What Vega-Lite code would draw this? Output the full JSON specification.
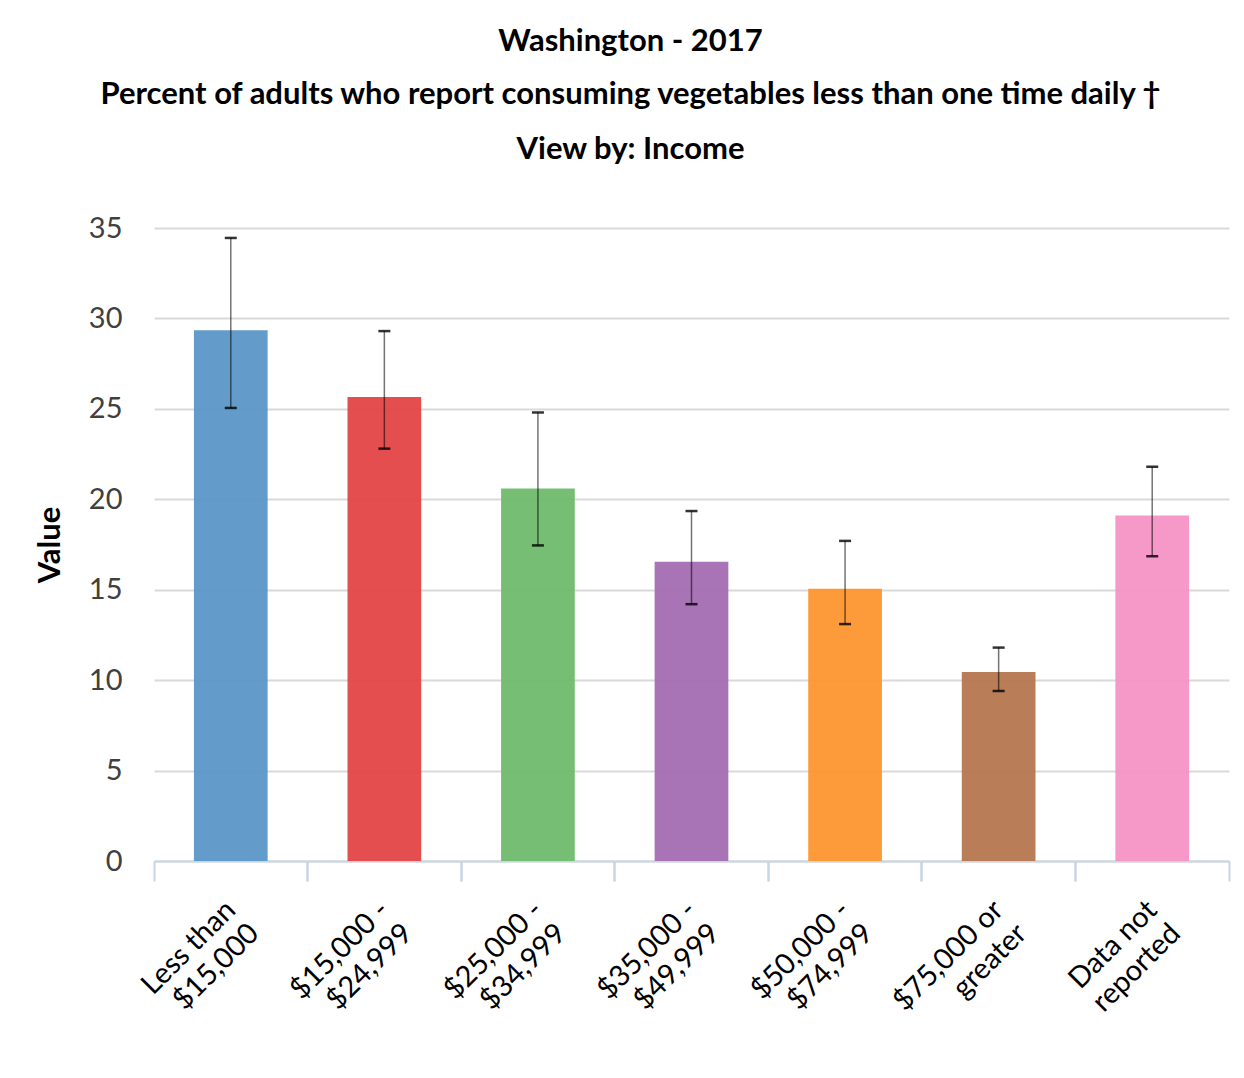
{
  "$schema": "https://vega.github.io/schema/vega-lite/v6.json",
  "autosize": {"type": "none"},
  "width": 1075,
  "height": 633,
  "padding": {"left": 154, "top": 228, "right": 15, "bottom": 217},
  "background": "white",
  "config": {"font": "Lato", "view": {"stroke": null}},
  "title": {
    "text": "Washington - 2017",
    "subtitle": ["Percent of adults who report consuming vegetables less than one time daily †", "View by: Income"],
    "anchor": "middle",
    "dx": -61,
    "font": "Lato",
    "fontSize": 31,
    "fontWeight": "bold",
    "color": "black",
    "subtitleFont": "Lato",
    "subtitleFontSize": 31,
    "subtitleFontWeight": "bold",
    "subtitleColor": "black",
    "subtitleLineHeight": 55,
    "subtitlePadding": 22,
    "offset": 48
  },
  "data": {
    "values": [
      {"income": "Less than|$15,000", "value": 29.35, "lo": 25.05, "hi": 34.45},
      {"income": "$15,000 -|$24,999", "value": 25.65, "lo": 22.8, "hi": 29.3},
      {"income": "$25,000 -|$34,999", "value": 20.6, "lo": 17.45, "hi": 24.8},
      {"income": "$35,000 -|$49,999", "value": 16.55, "lo": 14.2, "hi": 19.35},
      {"income": "$50,000 -|$74,999", "value": 15.05, "lo": 13.1, "hi": 17.7},
      {"income": "$75,000 or|greater", "value": 10.45, "lo": 9.4, "hi": 11.8},
      {"income": "Data not|reported", "value": 19.1, "lo": 16.85, "hi": 21.8}
    ]
  },
  "resolve": {"scale": {"x": "independent"}, "axis": {"x": "independent"}},
  "layer": [
    {
      "mark": {"type": "bar", "width": {"band": 0.48}, "opacity": 0.95},
      "encoding": {
        "x": {
          "field": "income", "type": "nominal", "sort": null,
          "scale": {"paddingInner": 0, "paddingOuter": 0},
          "axis": {
            "title": null, "orient": "bottom",
            "bandPosition": 0,
            "domainColor": "#c8d5e4", "domainWidth": 2,
            "tickColor": "#c8d5e4", "tickWidth": 2, "tickSize": 20,
            "labelAngle": -45, "labelAlign": "right", "labelBaseline": "middle",
            "labelExpr": "split(datum.label, '|')",
            "labelFont": "Lato", "labelFontSize": 29, "labelColor": "black",
            "labelLineHeight": 33, "labelPadding": 24, "labelOverlap": false, "labelBound": false
          }
        },
        "y": {
          "field": "value", "type": "quantitative",
          "scale": {"domain": [0, 35], "nice": false},
          "axis": {
            "title": "Value", "titleFont": "Lato", "titleFontSize": 31, "titleFontWeight": "bold",
            "titleColor": "black", "titlePadding": 22,
            "values": [0, 5, 10, 15, 20, 25, 30, 35],
            "domain": false, "ticks": false,
            "gridColor": "#d9d9d9", "gridWidth": 2,
            "labelFont": "Lato", "labelFontSize": 29, "labelColor": "#404040", "labelPadding": 32
          }
        },
        "color": {
          "field": "income", "type": "nominal", "sort": null, "legend": null,
          "scale": {"range": ["#5b97c7", "#e44546", "#6fbb6b", "#a46db1", "#fd962f", "#b5764f", "#f592c5"]}
        }
      }
    },
    {
      "mark": {"type": "rule", "color": "black", "strokeWidth": 1.5, "opacity": 0.55},
      "encoding": {
        "x": {
          "field": "income", "type": "nominal", "sort": null,
          "scale": {"paddingInner": 0, "paddingOuter": 0},
          "axis": {
            "title": null, "orient": "bottom", "bandPosition": 1, "labels": false, "domain": false, "grid": false,
            "tickColor": "#c8d5e4", "tickWidth": 2, "tickSize": 20
          }
        },
        "y": {"field": "lo", "type": "quantitative"},
        "y2": {"field": "hi"}
      }
    },
    {
      "mark": {"type": "tick", "color": "black", "size": 12, "thickness": 2.5, "opacity": 0.8},
      "encoding": {
        "x": {"field": "income", "type": "nominal", "sort": null, "scale": {"paddingInner": 0, "paddingOuter": 0}, "axis": null},
        "y": {"field": "lo", "type": "quantitative"}
      }
    },
    {
      "mark": {"type": "tick", "color": "black", "size": 12, "thickness": 2.5, "opacity": 0.8},
      "encoding": {
        "x": {"field": "income", "type": "nominal", "sort": null, "scale": {"paddingInner": 0, "paddingOuter": 0}, "axis": null},
        "y": {"field": "hi", "type": "quantitative"}
      }
    }
  ]
}
